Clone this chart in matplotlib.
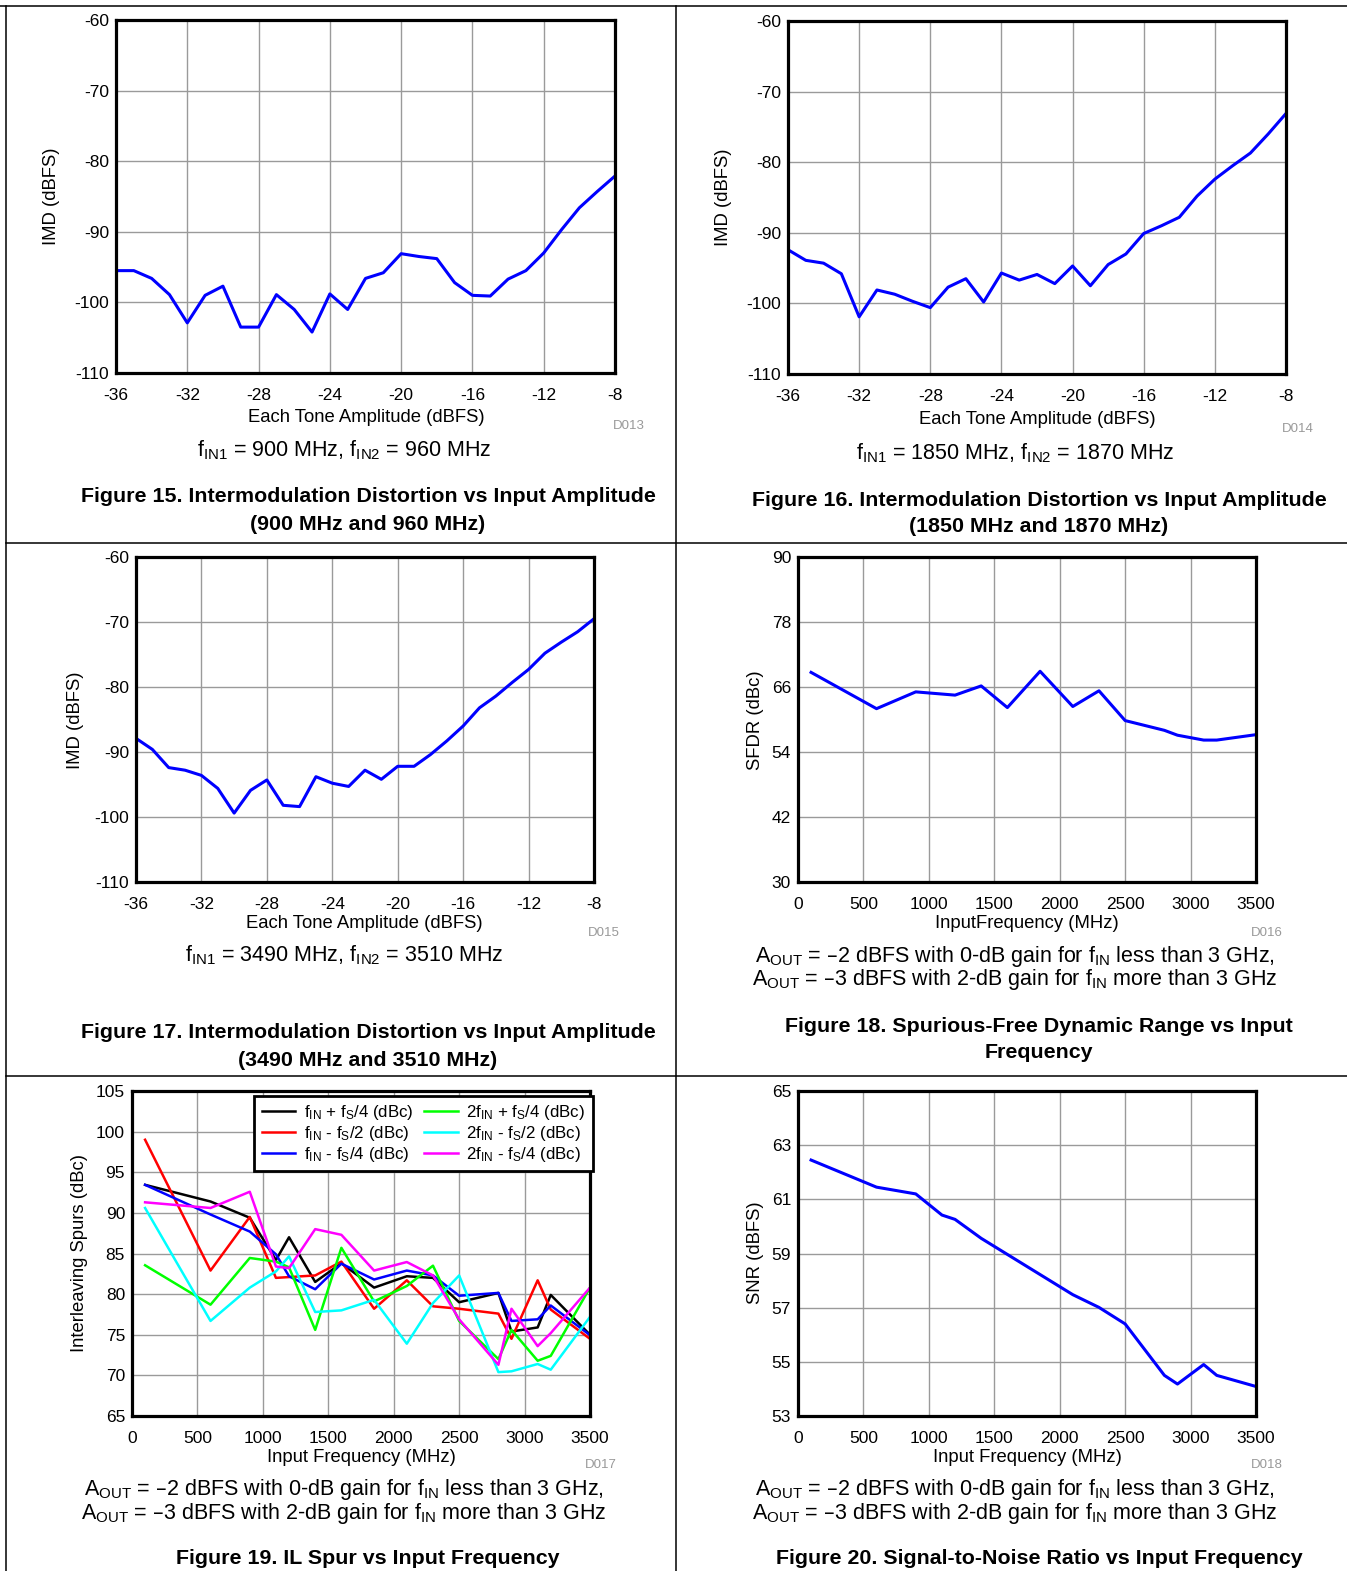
import matplotlib
matplotlib.use("Agg")
import matplotlib.pyplot as plt
from matplotlib.lines import Line2D

plt.rcParams["font.family"] = ["Liberation Sans", "DejaVu Sans"]
plt.rcParams["mathtext.default"] = "regular"
plt.rcParams["axes.unicode_minus"] = False

# ------------------------------------------------------------------
# data
# ------------------------------------------------------------------
amp = [-36, -35, -34, -33, -32, -31, -30, -29, -28, -27, -26, -25, -24, -23, -22,
       -21, -20, -19, -18, -17, -16, -15, -14, -13, -12, -11, -10, -9, -8]

imd_900 = [-95.5, -95.5, -96.6, -98.9, -102.9, -99.0, -97.7, -103.5, -103.5, -98.9,
           -101.0, -104.2, -98.8, -101.0, -96.6, -95.8, -93.1, -93.5, -93.8, -97.2,
           -99.0, -99.1, -96.7, -95.5, -93.0, -89.7, -86.6, -84.3, -82.1]
imd_1850 = [-92.4, -93.9, -94.3, -95.8, -101.9, -98.1, -98.7, -99.7, -100.6, -97.7,
            -96.5, -99.8, -95.7, -96.7, -95.9, -97.2, -94.7, -97.5, -94.5, -93.0,
            -90.1, -89.0, -87.8, -84.8, -82.4, -80.5, -78.7, -76.0, -73.1]
imd_3490 = [-87.9, -89.6, -92.4, -92.8, -93.6, -95.6, -99.4, -95.9, -94.3, -98.2,
            -98.4, -93.8, -94.8, -95.3, -92.8, -94.2, -92.2, -92.2, -90.4, -88.3,
            -86.0, -83.2, -81.4, -79.3, -77.3, -74.8, -73.1, -71.5, -69.5]

sfdr_f = [100, 600, 900, 1200, 1400, 1600, 1850, 2100, 2300, 2500, 2800, 2900, 3100, 3200, 3500]
sfdr = [68.7, 62.0, 65.1, 64.5, 66.2, 62.2, 68.9, 62.4, 65.3, 59.8, 58.0, 57.1, 56.2, 56.2, 57.2]

spur_f = [100, 600, 900, 1100, 1200, 1400, 1600, 1850, 2100, 2300, 2500, 2800, 2900, 3100, 3200, 3500]
spur_fs4p = [93.45, 91.4, 89.4, 84.2, 87.0, 81.5, 83.8, 80.8, 82.2, 82.0, 79.0, 80.15, 75.4, 75.9, 79.9, 75.0]
spur_fs2 = [99.0, 82.9, 89.5, 82.0, 82.1, 82.3, 84.0, 78.2, 81.7, 78.5, 78.2, 77.6, 74.5, 81.7, 78.1, 74.5]
spur_fs4m = [93.45, 89.8, 87.7, 84.9, 82.2, 80.6, 83.75, 81.8, 82.9, 82.3, 79.8, 80.15, 76.7, 76.9, 78.6, 74.95]
spur2_fs4p = [83.55, 78.7, 84.45, 84.0, 83.3, 75.6, 85.7, 79.1, 81.0, 83.5, 76.7, 72.0, 75.6, 71.8, 72.4, 80.8]
spur2_fs2 = [90.6, 76.7, 80.8, 82.8, 84.65, 77.8, 78.0, 79.3, 73.9, 78.9, 82.3, 70.4, 70.5, 71.4, 70.7, 77.2]
spur2_fs4m = [91.3, 90.6, 92.6, 83.4, 83.2, 88.0, 87.3, 82.9, 83.95, 82.3, 76.9, 71.3, 78.2, 73.6, 75.2, 80.8]
spur_labels = ["f$_{IN}$ + f$_{S}$/4 (dBc)", "f$_{IN}$ - f$_{S}$/2 (dBc)", "f$_{IN}$ - f$_{S}$/4 (dBc)",
               "2f$_{IN}$ + f$_{S}$/4 (dBc)", "2f$_{IN}$ - f$_{S}$/2 (dBc)", "2f$_{IN}$ - f$_{S}$/4 (dBc)"]
spur_colors = ["#000000", "#FF0000", "#0000FF", "#00FF00", "#00FFFF", "#FF00FF"]

snr_f = [100, 600, 900, 1100, 1200, 1400, 2100, 2300, 2500, 2800, 2900, 3100, 3200, 3500]
snr = [62.45, 61.45, 61.2, 60.42, 60.26, 59.56, 57.48, 57.01, 56.4, 54.5, 54.18, 54.9, 54.5, 54.09]

amp_ticks = [-36, -32, -28, -24, -20, -16, -12, -8]
imd_ticks = [-110, -100, -90, -80, -70, -60]
freq_ticks = [0, 500, 1000, 1500, 2000, 2500, 3000, 3500]

# ------------------------------------------------------------------
W, H = 1347, 1571
fig = plt.figure(figsize=(W / 100, H / 100), dpi=100)


def ax_at(l, t, r, b):
    return fig.add_axes([l / W, 1 - b / H, (r - l) / W, (b - t) / H])


def txt(x, y, s, **kw):
    # va=center centres the full text box, so nudge to centre the glyphs
    if kw.get("rotation", 0) == 90:
        x += 3
    else:
        y += 3
    kw.setdefault("ha", "center")
    kw.setdefault("va", "center")
    fig.text(x / W, 1 - y / H, s, **kw)


def style(ax, xt, yt):
    ax.set_xticks(xt)
    ax.set_yticks(yt)
    ax.set_xlim(xt[0], xt[-1])
    ax.set_ylim(yt[0], yt[-1])
    ax.grid(True, color="#9a9a9a", lw=1.0)
    ax.set_axisbelow(True)
    for sp in ax.spines.values():
        sp.set_linewidth(2.3)
    ax.tick_params(length=0, labelsize=12.5)
    ax.tick_params(axis="x", pad=10.5)
    ax.tick_params(axis="y", pad=5)


def page_line(x1, y1, x2, y2):
    fig.add_artist(Line2D([x1 / W, x2 / W], [1 - y1 / H, 1 - y2 / H],
                          transform=fig.transFigure, color="black", lw=1.1))


# table ruling
page_line(0, 6, W, 6)
page_line(6, 543, W, 543)
page_line(6, 1076, W, 1076)
page_line(6, 6, 6, H)
page_line(676, 6, 676, H)

cap_size = 15.5
title_size = 15.4
lab_size = 13.3

# ---- Figure 15
ax = ax_at(116, 20, 615, 373)
ax.plot(amp, imd_900, color="#0000FF", lw=2.2)
style(ax, amp_ticks, imd_ticks)
txt(48, 196, "IMD (dBFS)", rotation=90, size=lab_size)
txt(366, 414, "Each Tone Amplitude (dBFS)", size=lab_size)
txt(629, 423, "D013", size=9.5, color="#999999")
txt(344, 447, "f$_{IN1}$ = 900 MHz, f$_{IN2}$ = 960 MHz", size=cap_size)
txt(368, 494, "Figure 15. Intermodulation Distortion vs Input Amplitude", size=title_size, weight="bold")
txt(368, 521, "(900 MHz and 960 MHz)", size=title_size, weight="bold")

# ---- Figure 16
ax = ax_at(788, 21, 1286, 374)
ax.plot(amp, imd_1850, color="#0000FF", lw=2.2)
style(ax, amp_ticks, imd_ticks)
txt(720, 197, "IMD (dBFS)", rotation=90, size=lab_size)
txt(1037, 416, "Each Tone Amplitude (dBFS)", size=lab_size)
txt(1298, 426, "D014", size=9.5, color="#999999")
txt(1015, 450, "f$_{IN1}$ = 1850 MHz, f$_{IN2}$ = 1870 MHz", size=cap_size)
txt(1039, 497, "Figure 16. Intermodulation Distortion vs Input Amplitude", size=title_size, weight="bold")
txt(1039, 523, "(1850 MHz and 1870 MHz)", size=title_size, weight="bold")

# ---- Figure 17
ax = ax_at(136, 557, 594, 882)
ax.plot(amp, imd_3490, color="#0000FF", lw=2.2)
style(ax, amp_ticks, imd_ticks)
txt(73, 720, "IMD (dBFS)", rotation=90, size=lab_size)
txt(364, 921, "Each Tone Amplitude (dBFS)", size=lab_size)
txt(604, 930, "D015", size=9.5, color="#999999")
txt(344, 952, "f$_{IN1}$ = 3490 MHz, f$_{IN2}$ = 3510 MHz", size=cap_size)
txt(368, 1030, "Figure 17. Intermodulation Distortion vs Input Amplitude", size=title_size, weight="bold")
txt(368, 1057, "(3490 MHz and 3510 MHz)", size=title_size, weight="bold")

aout1 = "A$_{OUT}$ = \u20132 dBFS with 0-dB gain for f$_{IN}$ less than 3 GHz,"
aout2 = "A$_{OUT}$ = \u20133 dBFS with 2-dB gain for f$_{IN}$ more than 3 GHz"

# ---- Figure 18
ax = ax_at(798, 557, 1256, 882)
ax.plot(sfdr_f, sfdr, color="#0000FF", lw=2.2)
style(ax, freq_ticks, [30, 42, 54, 66, 78, 90])
txt(752, 720, "SFDR (dBc)", rotation=90, size=lab_size)
txt(1027, 921, "InputFrequency (MHz)", size=lab_size)
txt(1267, 930, "D016", size=9.5, color="#999999")
txt(1015, 953, aout1, size=cap_size)
txt(1015, 977, aout2, size=cap_size)
txt(1039, 1023, "Figure 18. Spurious-Free Dynamic Range vs Input", size=title_size, weight="bold")
txt(1039, 1050, "Frequency", size=title_size, weight="bold")

# ---- Figure 19
ax = ax_at(132, 1091, 590, 1416)
for ys, c, lab in zip([spur_fs4p, spur_fs2, spur_fs4m, spur2_fs4p, spur2_fs2, spur2_fs4m],
                      spur_colors, spur_labels):
    ax.plot(spur_f, ys, color=c, lw=1.8, label=lab)
style(ax, freq_ticks, [65, 70, 75, 80, 85, 90, 95, 100, 105])
leg = ax.legend(loc="upper right", ncol=2, fontsize=12.2, fancybox=False, framealpha=1,
                edgecolor="black", borderaxespad=0.0, handlelength=2.0, columnspacing=0.6,
                handletextpad=0.5, labelspacing=0.1, borderpad=0.45,
                bbox_to_anchor=(1.006, 0.986))
leg.get_frame().set_linewidth(2.0)
txt(76, 1253, "Interleaving Spurs (dBc)", rotation=90, size=lab_size)
txt(361, 1454, "Input Frequency (MHz)", size=lab_size)
txt(601, 1462, "D017", size=9.5, color="#999999")
txt(344, 1486, aout1, size=cap_size)
txt(344, 1511, aout2, size=cap_size)
txt(368, 1556, "Figure 19. IL Spur vs Input Frequency", size=title_size, weight="bold")

# ---- Figure 20
ax = ax_at(798, 1091, 1256, 1416)
ax.plot(snr_f, snr, color="#0000FF", lw=2.2)
style(ax, freq_ticks, [53, 55, 57, 59, 61, 63, 65])
txt(752, 1253, "SNR (dBFS)", rotation=90, size=lab_size)
txt(1027, 1454, "Input Frequency (MHz)", size=lab_size)
txt(1267, 1462, "D018", size=9.5, color="#999999")
txt(1015, 1486, aout1, size=cap_size)
txt(1015, 1511, aout2, size=cap_size)
txt(1039, 1556, "Figure 20. Signal-to-Noise Ratio vs Input Frequency", size=title_size, weight="bold")

fig.savefig("out.png", dpi=100)
